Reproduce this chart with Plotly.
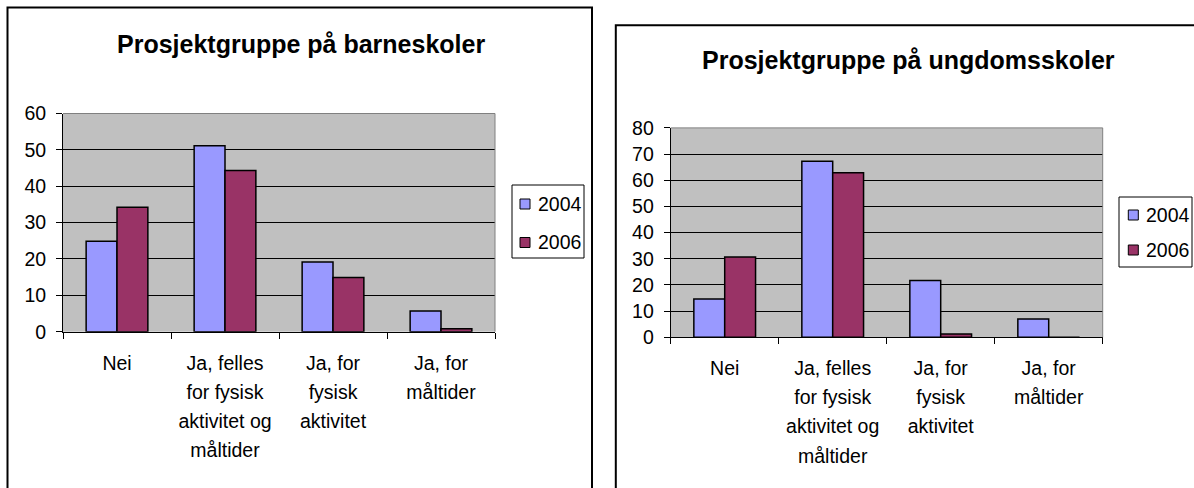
import plotly.graph_objects as go

# ---- data ----
category_lines = [["Nei"],
                  ["Ja, felles", "for fysisk", "aktivitet og", "måltider"],
                  ["Ja, for", "fysisk", "aktivitet"],
                  ["Ja, for", "måltider"]]
categories = [" ".join(lines) for lines in category_lines]
series_names = ["2004", "2006"]
barne_2004 = [24.9, 51.1, 19.2, 5.7]
barne_2006 = [34.2, 44.3, 14.9, 0.8]
ungdom_2004 = [14.6, 67.3, 21.7, 7.0]
ungdom_2006 = [30.7, 62.9, 1.3, 0.0]
titles = ["Prosjektgruppe på barneskoler", "Prosjektgruppe på ungdomsskoler"]
y_max = [60, 80]

W, H = 1194, 488
FONT = "Liberation Sans, Arial, sans-serif"
TXT = 19.5
colors = ["#9999FF", "#993366"]

fig = go.Figure()


def add_bars(vals_list, xa, ya):
    for name, vals, col in zip(series_names, vals_list, colors):
        fig.add_trace(go.Bar(
            x=categories, y=vals, name=name, xaxis=xa, yaxis=ya,
            marker=dict(color=col, line=dict(color="black", width=1.5)),
            showlegend=False, hoverinfo="skip",
        ))


add_bars([barne_2004, barne_2006], "x", "y")
add_bars([ungdom_2004, ungdom_2006], "x2", "y2")


def px(x):
    return x / W


def py(y):
    return 1 - y / H


tick_text = ["<br>".join("<span style='font-size:%spx'>%s</span>" % (TXT, s) for s in lines)
             for lines in category_lines]

xcommon = dict(type="category", range=[-0.5, 3.5], showline=True, linecolor="black",
               linewidth=1, ticks="outside", tickson="boundaries", ticklen=6,
               tickcolor="black", showgrid=False,
               tickfont=dict(family=FONT, size=22.4, color="black"),
               tickmode="array", tickvals=categories, ticktext=tick_text,
               ticklabelstandoff=10, fixedrange=True)
ycommon = dict(showline=True, linecolor="black", linewidth=1, ticks="outside",
               ticklen=6, tickcolor="black", showgrid=True, gridcolor="black",
               gridwidth=1, zeroline=False, dtick=10,
               tickfont=dict(family=FONT, size=TXT, color="black"),
               ticklabelstandoff=6, fixedrange=True)

fig.update_layout(
    width=W, height=H, autosize=False,
    margin=dict(l=0, r=0, t=0, b=0, pad=0, autoexpand=False),
    paper_bgcolor="white", plot_bgcolor="#C0C0C0",
    barmode="group", bargap=1.5 / 3.5, bargroupgap=0,
    font=dict(family=FONT, color="black"),
    showlegend=False,
    xaxis=dict(domain=[px(63), px(495)], anchor="y", **xcommon),
    yaxis=dict(domain=[py(331.7), py(113.5)], anchor="x", range=[0, y_max[0]], **ycommon),
    xaxis2=dict(domain=[px(670.7), px(1102.7)], anchor="y2", **xcommon),
    yaxis2=dict(domain=[py(337.3), py(127.9)], anchor="x2", range=[0, y_max[1]], **ycommon),
)

# chart titles
for title, (tx, ty) in zip(titles, [(301, 43.5), (908, 60)]):
    fig.add_annotation(text="<b>" + title + "</b>", x=px(tx), y=py(ty),
                       xref="paper", yref="paper", xanchor="center", yanchor="middle",
                       showarrow=False, font=dict(family=FONT, size=25, color="black"))

# chart frames
fig.add_shape(type="rect", xref="paper", yref="paper",
              x0=px(7.5), x1=px(592), y0=-0.05, y1=py(7.5),
              line=dict(color="black", width=2), layer="below")
fig.add_shape(type="rect", xref="paper", yref="paper",
              x0=px(615.8), x1=1.05, y0=-0.05, y1=py(25.2),
              line=dict(color="black", width=2), layer="below")

# grey plot-area border (top and right)
for xd, yd in [("x domain", "y domain"), ("x2 domain", "y2 domain")]:
    fig.add_shape(type="line", xref=xd, yref=yd, x0=0, x1=1, y0=1, y1=1,
                  line=dict(color="#808080", width=1))
    fig.add_shape(type="line", xref=xd, yref=yd, x0=1, x1=1, y0=0, y1=1,
                  line=dict(color="#808080", width=1))

# legends (Excel-style boxes): box, swatches and labels per chart
legend_boxes = [(512, 584, 185, 258), (1119, 1192, 197, 267)]
legend_rows = [(525, [204, 242.5]), (1133.3, [215, 250])]
for (bx0, bx1, by0, by1), (sx, rows) in zip(legend_boxes, legend_rows):
    fig.add_shape(type="rect", xref="paper", yref="paper",
                  x0=px(bx0), x1=px(bx1), y0=py(by1), y1=py(by0),
                  line=dict(color="black", width=1), fillcolor="white")
    for name, col, ry in zip(series_names, colors, rows):
        fig.add_shape(type="rect", xref="paper", yref="paper",
                      x0=px(sx - 5), x1=px(sx + 5), y0=py(ry + 5), y1=py(ry - 5),
                      line=dict(color="black", width=1), fillcolor=col)
        fig.add_annotation(text=name, x=px(sx + 10.5), y=py(ry - 0.5),
                           xref="paper", yref="paper", xanchor="left", yanchor="middle",
                           showarrow=False, font=dict(family=FONT, size=TXT, color="black"))

fig.write_html("out.html", config={"displayModeBar": False},
               post_script="document.body.style.margin='0';")
